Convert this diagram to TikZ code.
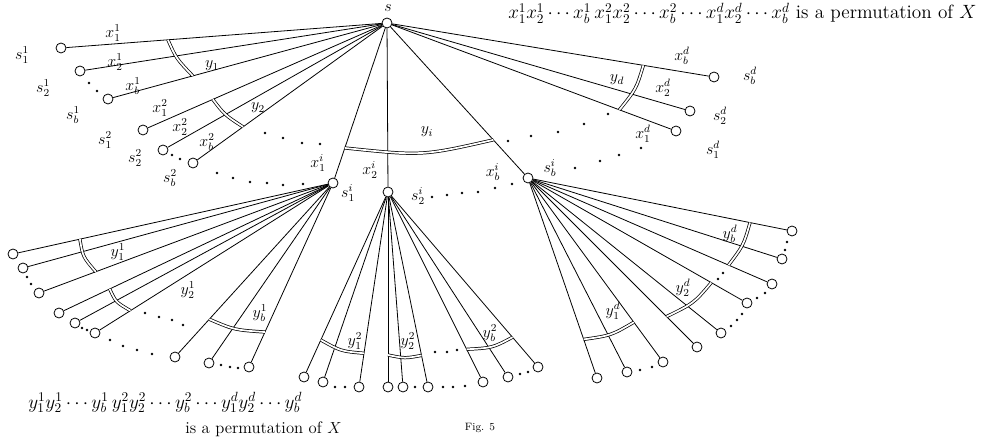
\documentclass[tikz,border=0pt]{standalone}
\usetikzlibrary{calc}
% double arc across the edges from hub #1: from t=#3 on the edge to #2
% to t=#5 on the edge to #4, bulging away from the hub by factor #6
\newcommand\dblarc[6]{%
  \path ($(#1)!#3!(#2)$) coordinate (arcA) ($(#1)!#5!(#4)$) coordinate (arcB);
  \draw[yarc] (arcA) .. controls ($(arcA)!.5!(arcB)!-#6!(#1)$) .. (arcB);}
\begin{document}
\begin{tikzpicture}[x=0.75pt,y=-0.75pt,
  vtx/.style={circle,draw,line width=0.6pt,minimum size=7.5pt,inner sep=0pt},
  con/.style={line width=0.6pt},
  yarc/.style={double,double distance=1.3pt,line width=0.55pt},
  lbl/.style={font=\large,inner sep=0pt},
  txt/.style={inner sep=0pt,anchor=base west}]
\useasboundingbox (0,0) rectangle (1005,441);

% root and first-level vertices
\node[vtx] (s) at (387,23) {};
\node[vtx] (a11) at (61,48) {};
\node[vtx] (a12) at (80,71) {};
\node[vtx] (a1b) at (108,99) {};
\node[vtx] (a21) at (143,130) {};
\node[vtx] (a22) at (163,150) {};
\node[vtx] (a2b) at (193,163) {};
\node[vtx] (si1) at (333,183) {};
\node[vtx] (si2) at (388,192) {};
\node[vtx] (sib) at (528,178) {};
\node[vtx] (ad1) at (676,131) {};
\node[vtx] (ad2) at (690,111) {};
\node[vtx] (adb) at (714,77) {};

% leaves below s^i_1
\node[vtx] (p1) at (13,254) {};
\node[vtx] (p2) at (23,268) {};
\node[vtx] (p3) at (39,293) {};
\node[vtx] (p4) at (59,313) {};
\node[vtx] (p5) at (75,323) {};
\node[vtx] (p6) at (95,333) {};
\node[vtx] (p7) at (175,357) {};
\node[vtx] (p8) at (209,363) {};
\node[vtx] (p9) at (249,367) {};
% leaves below s^i_2
\node[vtx] (q1) at (304,377) {};
\node[vtx] (q2) at (323,382) {};
\node[vtx] (q3) at (359,387) {};
\node[vtx] (q4) at (388,387) {};
\node[vtx] (q5) at (403,387) {};
\node[vtx] (q6) at (428,387) {};
\node[vtx] (q7) at (483,382) {};
\node[vtx] (q8) at (508,377) {};
\node[vtx] (q9) at (538,367) {};
% leaves below s^i_b
\node[vtx] (r1) at (597,378) {};
\node[vtx] (r2) at (627,372) {};
\node[vtx] (r3) at (663,362) {};
\node[vtx] (r4) at (697,347) {};
\node[vtx] (r5) at (721,333) {};
\node[vtx] (r6) at (747,303) {};
\node[vtx] (r7) at (772,284) {};
\node[vtx] (r8) at (782,259) {};
\node[vtx] (r9) at (792,231) {};

% edges
\foreach \t in {a11,a12,a1b,a21,a22,a2b,si1,si2,sib,ad1,ad2,adb}
  \draw[con] (s) -- (\t);
\foreach \t in {p1,p2,p3,p4,p5,p6,p7,p8,p9}
  \draw[con] (si1) -- (\t);
\foreach \t in {q1,q2,q3,q4,q5,q6,q7,q8,q9}
  \draw[con] (si2) -- (\t);
\foreach \t in {r1,r2,r3,r4,r5,r6,r7,r8,r9}
  \draw[con] (sib) -- (\t);

% double arcs marking the edge groups
\dblarc{s}{a11}{0.672}{a1b}{0.696}{0.02}
\dblarc{s}{a21}{0.714}{a2b}{0.742}{0.02}
\dblarc{s}{si1}{0.781}{sib}{0.754}{0.10}
\dblarc{s}{adb}{0.784}{ad1}{0.804}{0.02}
\dblarc{si1}{p1}{0.791}{p3}{0.807}{0.02}
\dblarc{si1}{p4}{0.815}{p6}{0.851}{0.02}
\dblarc{si1}{p7}{0.783}{p9}{0.81}{0.03}
\dblarc{si2}{q1}{0.80}{q3}{0.827}{0.03}
\dblarc{si2}{q4}{0.836}{q6}{0.838}{0.02}
\dblarc{si2}{q7}{0.828}{q9}{0.83}{0.03}
\dblarc{sib}{r1}{0.807}{r3}{0.784}{0.03}
\dblarc{sib}{r4}{0.82}{r6}{0.837}{0.03}
\dblarc{sib}{r7}{0.822}{r9}{0.841}{0.02}

% ellipsis dots
\foreach \p in {(89,83),(97,91),(172,155),(180,159),
  (265,133),(283,138),(302,143),(320,144),
  (217,173),(233,178),(250,182),(267,183),(283,185),(303,184),
  (432,197),(447,195),(462,193),(478,192),(495,188),(512,184),
  (508,141),(531,136),(558,132),(584,124),(608,114),
  (575,168),(600,161),(619,155),(641,148),
  (27,277),(31,284),(82,328),(87,330),
  (145,313),(159,317),(172,320),(183,325),
  (110,340),(123,346),(137,350),(152,354),
  (221,365),(230,367),(238,368),
  (335,387),(345,387),(415,387),
  (443,387),(453,387),(465,386),
  (435,352),(447,352),(457,350),
  (520,374),(528,372),
  (652,367),(640,370),
  (742,314),(737,320),(731,326),
  (765,293),(757,298),
  (723,273),(718,279),
  (787,242),(785,250)}
  \fill \p circle[radius=1pt];

% labels of the upper tree
\node[lbl] (ls) at (388,8) {$s$};
\node[lbl] (lx11) at (113,33) {$x^1_1$};
\node[lbl] (lx12) at (115,62) {$x^1_2$};
\node[lbl] (lx1b) at (133,86) {$x^1_b$};
\node[lbl] (ls11) at (22,55) {$s^1_1$};
\node[lbl] (ls12) at (43,88) {$s^1_2$};
\node[lbl] (ls1b) at (73,115) {$s^1_b$};
\node[lbl] (ly1) at (212,66) {$y_1$};
\node[lbl] (lx21) at (160,108) {$x^2_1$};
\node[lbl] (lx22) at (180,127) {$x^2_2$};
\node[lbl] (lx2b) at (207,142) {$x^2_b$};
\node[lbl] (ls21) at (105,140) {$s^2_1$};
\node[lbl] (ls22) at (135,158) {$s^2_2$};
\node[lbl] (ls2b) at (170,178) {$s^2_b$};
\node[lbl] (ly2) at (258,108) {$y_2$};
\node[lbl] (lxi1) at (318,163) {$x^i_1$};
\node[lbl] (lxi2) at (370,170) {$x^i_2$};
\node[lbl] (lxib) at (493,172) {$x^i_b$};
\node[lbl] (lsi1) at (348,193) {$s^i_1$};
\node[lbl] (lsi2) at (418,196) {$s^i_2$};
\node[lbl] (lsib) at (550,168) {$s^i_b$};
\node[lbl] (lyi) at (427,132) {$y_i$};
\node[lbl] (lxd1) at (643,134) {$x^d_1$};
\node[lbl] (lxd2) at (663,88) {$x^d_2$};
\node[lbl] (lxdb) at (682,56) {$x^d_b$};
\node[lbl] (lsd1) at (713,150) {$s^d_1$};
\node[lbl] (lsd2) at (720,116) {$s^d_2$};
\node[lbl] (lsdb) at (750,76) {$s^d_b$};
\node[lbl] (lyd) at (617,80) {$y_d$};

% labels of the lower fans
\node[lbl] (ly11) at (118,252) {$y^1_1$};
\node[lbl] (ly12) at (188,290) {$y^1_2$};
\node[lbl] (ly1b) at (260,313) {$y^1_b$};
\node[lbl] (ly21) at (355,341) {$y^2_1$};
\node[lbl] (ly22) at (408,341) {$y^2_2$};
\node[lbl] (ly2b) at (490,333) {$y^2_b$};
\node[lbl] (lyd1) at (613,311) {$y^d_1$};
\node[lbl] (lyd2) at (683,288) {$y^d_2$};
\node[lbl] (lydb) at (730,234) {$y^d_b$};

% captions
\node[txt,font=\Large] (permx) at (508,19)
  {$x^1_1x^1_2\cdots x^1_b\,x^2_1x^2_2\cdots x^2_b\cdots x^d_1x^d_2\cdots x^d_b$ is a permutation of $X$};
\node[txt,font=\Large] (permy) at (28,408)
  {$y^1_1y^1_2\cdots y^1_b\,y^2_1y^2_2\cdots y^2_b\cdots y^d_1y^d_2\cdots y^d_b$};
\node[txt,font=\fontsize{12.5}{15}\selectfont] (permyt) at (185,433) {is a permutation of $X$};
\node[font=\footnotesize] (fig) at (480,428) {Fig. 5};
\end{tikzpicture}
\end{document}
